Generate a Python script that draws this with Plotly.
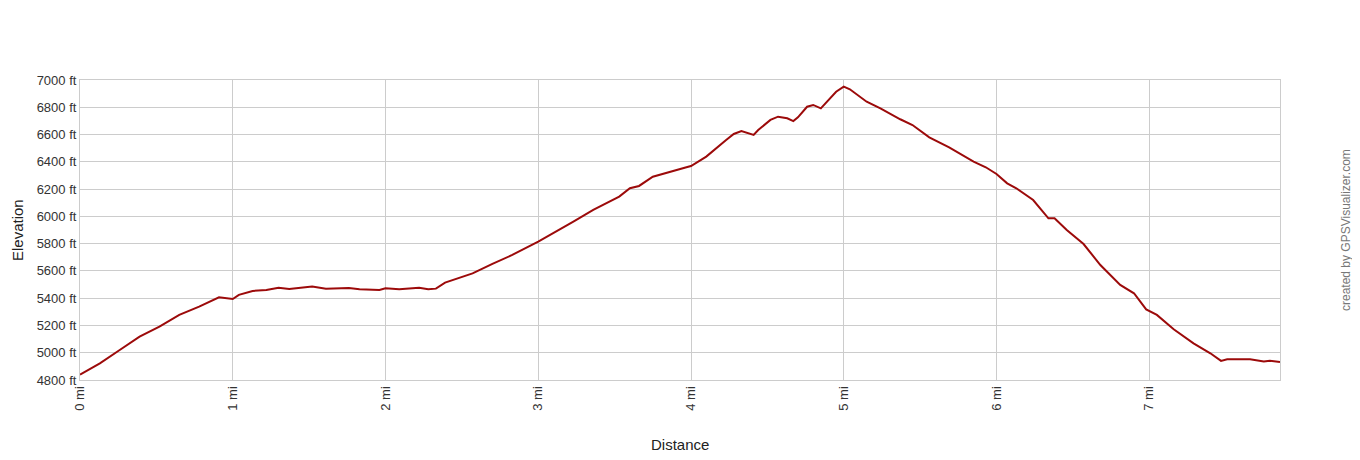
import plotly.graph_objects as go

# ── Data ──────────────────────────────────────────────────────────────────────
distance_mi = [
    0.0, 0.13, 0.26, 0.39, 0.52, 0.65, 0.78, 0.89, 0.91, 1.0, 1.04, 1.13, 1.22,
    1.30, 1.37, 1.43, 1.52, 1.57, 1.61, 1.76, 1.83, 1.96, 2.0, 2.09, 2.17, 2.22,
    2.28, 2.33, 2.39, 2.44, 2.57, 2.70, 2.83, 3.0, 3.10, 3.23, 3.36, 3.53, 3.60,
    3.66, 3.75, 3.88, 3.97, 4.0, 4.10, 4.23, 4.28, 4.33, 4.36, 4.41, 4.44, 4.52,
    4.57, 4.63, 4.67, 4.70, 4.76, 4.80, 4.85, 4.89, 4.95, 5.0, 5.04, 5.15, 5.24,
    5.37, 5.45, 5.56, 5.69, 5.85, 5.93, 6.0, 6.07, 6.13, 6.24, 6.34, 6.38, 6.46,
    6.57, 6.68, 6.81, 6.90, 6.98, 7.05, 7.16, 7.29, 7.40, 7.47, 7.51, 7.66, 7.75,
    7.79, 7.856,
]
elevation_ft = [
    4840, 4922, 5020, 5118, 5191, 5277, 5338, 5399, 5406, 5394, 5424, 5453, 5460,
    5477, 5468, 5475, 5485, 5477, 5470, 5475, 5465, 5460, 5472, 5465, 5470, 5477,
    5465, 5470, 5514, 5533, 5582, 5651, 5717, 5815, 5876, 5961, 6047, 6145, 6206,
    6223, 6291, 6335, 6360, 6369, 6438, 6560, 6604, 6626, 6614, 6597, 6633, 6707,
    6731, 6719, 6699, 6726, 6804, 6817, 6792, 6841, 6914, 6951, 6932, 6841, 6792,
    6712, 6670, 6580, 6506, 6401, 6360, 6311, 6242, 6206, 6120, 5986, 5986, 5900,
    5797, 5643, 5497, 5436, 5318, 5277, 5172, 5069, 4996, 4940, 4952, 4952, 4935,
    4942, 4932,
]

LINE_RED, GRID, TEXT = "#9c0a0a", "#cccccc", "#333333"
FONT = "Arial, Liberation Sans, sans-serif"

fig = go.Figure(go.Scatter(
    x=distance_mi,
    y=elevation_ft,
    mode="lines",
    line=dict(color=LINE_RED, width=2),
    hoverinfo="skip",
))

# page body has an 8px margin all round, so keep the figure inside the window
# (no scrollbars); automargin off so the rotated tick labels don't squash the plot
fig.update_layout(
    width=1344, height=444,
    margin=dict(l=72, r=72, t=72, b=72),
    plot_bgcolor="white", paper_bgcolor="white",
    font=dict(family=FONT, size=13, color=TEXT),
    showlegend=False,
    xaxis=dict(
        range=[0, 7.856], dtick=1, tick0=0, ticksuffix=" mi", tickangle=-90,
        showgrid=True, gridcolor=GRID, gridwidth=1, zeroline=False,
        showline=True, linecolor=GRID, mirror=True, automargin=False,
        ticks="", tickfont=dict(size=13, color=TEXT),
    ),
    yaxis=dict(
        range=[4800, 7000], dtick=200, tick0=4800, ticksuffix=" ft", tickformat="d",
        showgrid=True, gridcolor=GRID, gridwidth=1, zeroline=False,
        showline=True, linecolor=GRID, mirror=True, automargin=False,
        ticks="", tickfont=dict(size=13, color=TEXT),
    ),
    annotations=[
        dict(text="Distance", xref="paper", yref="paper", x=0.5, y=0,
             yshift=-64, xanchor="center", yanchor="middle", showarrow=False,
             font=dict(family=FONT, size=15, color="#222")),
        dict(text="Elevation", xref="paper", yref="paper", x=0, y=0.5,
             xshift=-63, xanchor="center", yanchor="middle", textangle=-90,
             showarrow=False, font=dict(family=FONT, size=15, color="#222")),
        dict(text="created by GPSVisualizer.com", xref="paper", yref="paper",
             x=1.0, y=0.5, xshift=66, xanchor="center", yanchor="middle",
             textangle=-90, showarrow=False,
             font=dict(family=FONT, size=12, color="#777777")),
    ],
)

fig.write_html("out.html")
